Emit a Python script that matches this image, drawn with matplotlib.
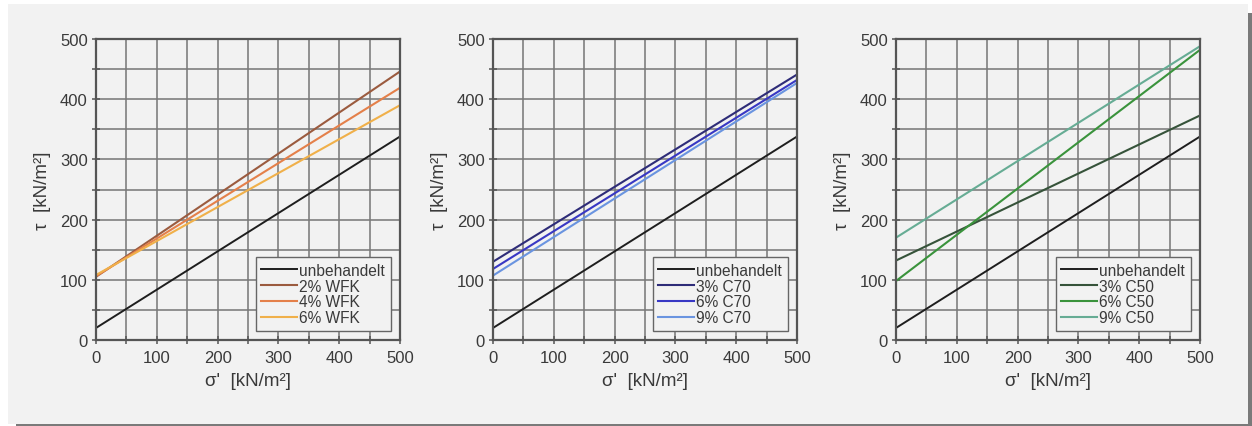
import matplotlib.pyplot as plt
from matplotlib.patches import Rectangle
from matplotlib.ticker import MultipleLocator

plt.rcParams['font.family'] = ['Liberation Sans', 'DejaVu Sans']

# Data -----
sigma = [0, 500]  # sigma' in kN/m2

untreated = [20, 338]

wfk_labels = ['2% WFK', '4% WFK', '6% WFK']
wfk_tau = [[105, 446], [106, 419], [108, 390]]
wfk_colors = ['#9b5b3f', '#e4804a', '#f0b04a']

c70_labels = ['3% C70', '6% C70', '9% C70']
c70_tau = [[130, 441], [118, 432], [107, 427]]
c70_colors = ['#2e2c78', '#3838c4', '#6a94e0']

c50_labels = ['3% C50', '6% C50', '9% C50']
c50_tau = [[132, 373], [98, 482], [170, 488]]
c50_colors = ['#36533a', '#3a933c', '#66ac94']

panels = [(wfk_labels, wfk_tau, wfk_colors),
          (c70_labels, c70_tau, c70_colors),
          (c50_labels, c50_tau, c50_colors)]

BG = '#f2f2f2'
TXT = '#3a3a3a'

fig = plt.figure(figsize=(12.52, 4.27), dpi=100)
fig.patch.set_facecolor('white')

# grey card with a drop shadow
W, H = 1252, 427
fig.patches.append(Rectangle((16 / W, 0), 1 - 16 / W, 3 / H, transform=fig.transFigure,
                             facecolor='#7a7a7a', edgecolor='none', zorder=-3))
fig.patches.append(Rectangle((1248 / W, 0), 4 / W, (427 - 14) / H, transform=fig.transFigure,
                             facecolor='#7a7a7a', edgecolor='none', zorder=-3))
fig.patches.append(Rectangle((8 / W, 2 / H), 1240 / W, 420 / H, transform=fig.transFigure,
                             facecolor=BG, edgecolor='none', zorder=-2))

lefts = [96, 493, 896]
for left, (labels, taus, colors) in zip(lefts, panels):
    ax = fig.add_axes([left / W, 86 / H, 304 / W, 301 / H])
    ax.set_facecolor(BG)

    ax.plot(sigma, untreated, color='#1e1e1e', lw=1.4, label='unbehandelt')
    for lab, tau, col in zip(labels, taus, colors):
        ax.plot(sigma, tau, color=col, lw=1.5, label=lab)

    ax.set_xlim(0, 500)
    ax.set_ylim(0, 500)
    ax.xaxis.set_major_locator(MultipleLocator(100))
    ax.yaxis.set_major_locator(MultipleLocator(100))
    ax.xaxis.set_minor_locator(MultipleLocator(50))
    ax.yaxis.set_minor_locator(MultipleLocator(50))
    ax.grid(True, which='both', color='#7a7a7a', lw=1.15)
    ax.set_axisbelow(True)
    ax.tick_params(which='both', direction='inout', length=6, width=1.1, color='#555555',
                   labelsize=12, labelcolor=TXT, pad=4)
    ax.tick_params(axis='y', pad=3)
    for sp in ax.spines.values():
        sp.set_color('#555555')
        sp.set_linewidth(1.6)

    ax.set_xlabel("σ'  [kN/m²]", fontsize=13.5, color=TXT, labelpad=5)
    ax.set_ylabel('τ  [kN/m²]', fontsize=13.5, color=TXT, labelpad=6)

    leg = ax.legend(loc='lower right', fontsize=11.2, frameon=True, fancybox=False,
                    facecolor=BG, edgecolor='#666666', framealpha=1,
                    handlelength=2.3, handletextpad=0.15, labelspacing=0.05,
                    borderpad=0.35, borderaxespad=0.6)
    leg.get_frame().set_linewidth(1.0)
    for t in leg.get_texts():
        t.set_color(TXT)

fig.savefig('out.png', dpi=100, facecolor=fig.get_facecolor())
